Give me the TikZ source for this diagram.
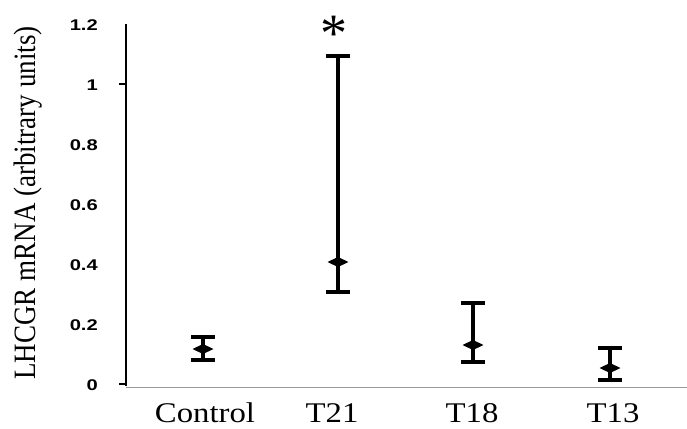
\documentclass[tikz,border=0pt]{standalone}
\usepackage{fontspec}
\setmainfont{Liberation Serif}
\newfontfamily\ticksans{Liberation Sans}
\begin{document}
\begin{tikzpicture}[x=1pt,y=-1pt,
  ticklab/.style={anchor=base east,inner sep=0pt,font=\ticksans\bfseries\fontsize{15.5}{16}\selectfont},
  catlab/.style={anchor=base,inner sep=0pt,font=\fontsize{28.5}{30}\selectfont},
  stembar/.style={line width=4.8pt},
  capbar/.style={line width=4.8pt},
  meanmark/.style={fill=black,draw=none}
]
\useasboundingbox (0,0) rectangle (687,428);
\fill[white] (0,0) rectangle (687,428);

% axes
\coordinate (yt) at (126,24);
\coordinate (yb) at (126,386);
\coordinate (xl) at (126,387);
\coordinate (xr) at (687,387);
\draw[line width=1.6pt] (yt) -- (yb);
\draw[line width=1pt,black!40] (xl) -- (xr);

% ticks and labels
\foreach \v/\t in {0/0,0.2/0.2,0.4/0.4,0.6/0.6,0.8/0.8,1/1,1.2/1.2}{
  \pgfmathsetmacro{\yy}{384-300*\v}
  \coordinate (tk\t) at (119,\yy);
  \draw[line width=1.2pt] (tk\t) -- ++(7,0);
  \node[ticklab] (lab\t) at (98,\yy+6) {\scalebox{1.3}[1]{\t}};
}

% y label
\node[inner sep=0pt,rotate=90,font=\fontsize{27}{28}\selectfont] (ylab) at (28,203)
  {\scalebox{1}[1.15]{LHCGR mRNA (arbitrary units)}};

% error bars: x, top, mean, bottom
\foreach \n/\x/\tp/\m/\bt in {ctl/203/337/349/360, t21/338/56/262/292, t18/473/303/345/362, t13/610/348/368/380}{
  \coordinate (\n top) at (\x,\tp);
  \coordinate (\n bot) at (\x,\bt);
  \coordinate (\n mean) at (\x,\m);
  \draw[stembar] (\n top) -- (\n bot);
  \draw[capbar] ([xshift=-12pt]\n top) -- ([xshift=12pt]\n top);
  \draw[capbar] ([xshift=-12pt]\n bot) -- ([xshift=12pt]\n bot);
  \fill[meanmark] ([xshift=-10.5pt]\n mean) -- ([yshift=-5pt]\n mean) -- ([xshift=10.5pt]\n mean) -- ([yshift=5pt]\n mean) -- cycle;
}

% category labels
\node[catlab] (cctl) at (205,422) {\scalebox{1.15}[1]{Control}};
\node[catlab] (c21) at (332,422) {\scalebox{1.15}[1]{T21}};
\node[catlab] (c18) at (472,422) {\scalebox{1.15}[1]{T18}};
\node[catlab] (c13) at (613,422) {\scalebox{1.15}[1]{T13}};

% significance star
\node[inner sep=0pt,font=\fontsize{54}{54}\selectfont] (star) at (334,34) {*};
\end{tikzpicture}
\end{document}
